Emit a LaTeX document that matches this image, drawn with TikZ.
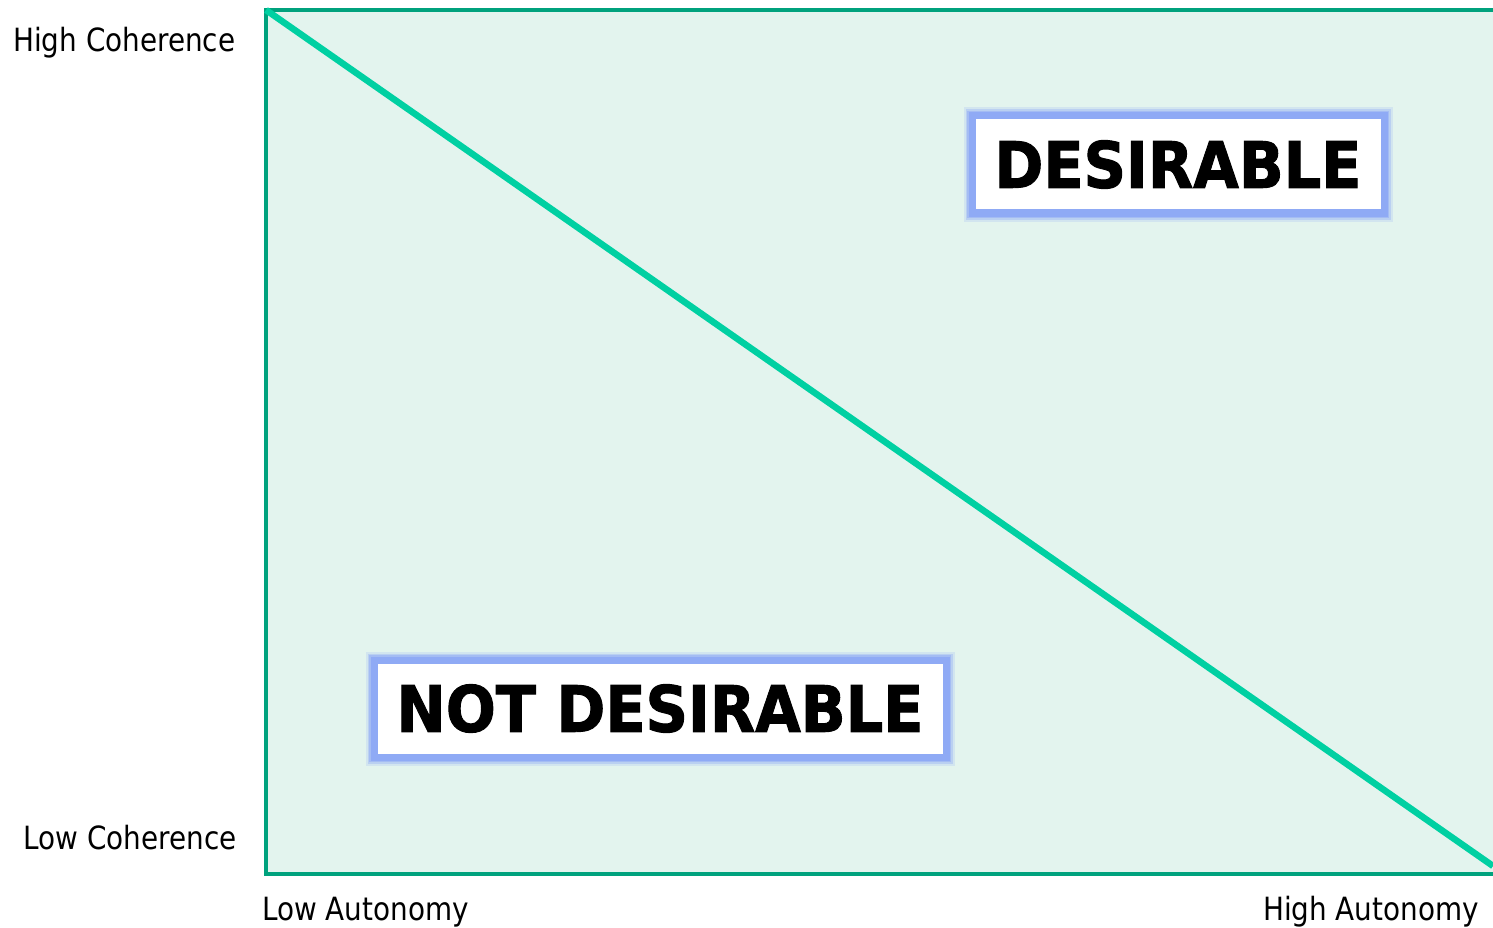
\documentclass[tikz,border=0pt]{standalone}
\usepackage{fontspec}
\newfontfamily\labfont{DejaVu Sans}[FakeStretch=0.87]
\newfontfamily\boxfont{DejaVu Sans Bold}[FakeStretch=0.92,FakeBold=1.5]
\definecolor{framec}{RGB}{0,162,125}
\definecolor{fillc}{RGB}{227,244,238}
\definecolor{diagc}{RGB}{0,208,162}
\definecolor{glowc}{RGB}{143,170,245}
\tikzset{
  lab/.style={inner sep=0pt, font=\labfont\fontsize{32}{36}\selectfont},
  tag/.style={fill=white, draw=glowc, line width=7pt, inner sep=0pt,
    font=\boxfont\fontsize{64}{70}\selectfont,
    preaction={draw=glowc, line width=17pt, opacity=0.2},
    preaction={draw=glowc, line width=13pt, opacity=0.35},
    preaction={draw=glowc, line width=10pt, opacity=0.5}},
}
\begin{document}
\begin{tikzpicture}[x=1pt,y=-1pt]
\useasboundingbox (0,0) rectangle (1493,928);
\coordinate (tl) at (266,10);
\coordinate (tr) at (1493,10);
\coordinate (bl) at (266,874);
\coordinate (br) at (1493,874);
\coordinate (de) at (1493,866);
\fill[fillc] (tl) rectangle (br);
\draw[framec, line width=4.5pt] (tr) -- (tl) -- (bl) -- (br);
\draw[diagc, line width=6.5pt] (tl) -- (de);
\node[tag, minimum width=412pt, minimum height=97pt] (des) at (1178,164.5) {DESIRABLE};
\node[tag, minimum width=572pt, minimum height=97pt] (ndes) at (660,708.5) {NOT DESIRABLE};
\node[lab, anchor=base west] (hc) at (13,52) {High Coherence};
\node[lab, anchor=base east] (lc) at (237,849) {Low Coherence};
\node[lab, anchor=base west] (la) at (262,920) {Low Autonomy};
\node[lab, anchor=base east] (ha) at (1479,920) {High Autonomy};
\end{tikzpicture}
\end{document}
